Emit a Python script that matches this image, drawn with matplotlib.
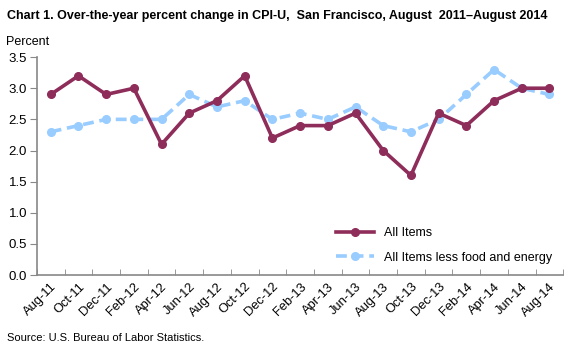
import matplotlib
matplotlib.use("Agg")
import matplotlib.pyplot as plt
import numpy as np

plt.rcParams['font.family'] = ['Liberation Sans', 'DejaVu Sans']

months = ["Aug-11", "Oct-11", "Dec-11", "Feb-12", "Apr-12", "Jun-12", "Aug-12", "Oct-12",
          "Dec-12", "Feb-13", "Apr-13", "Jun-13", "Aug-13", "Oct-13", "Dec-13", "Feb-14",
          "Apr-14", "Jun-14", "Aug-14"]
all_items = [2.9, 3.2, 2.9, 3.0, 2.1, 2.6, 2.8, 3.2, 2.2, 2.4, 2.4, 2.6, 2.0, 1.6, 2.6, 2.4, 2.8, 3.0, 3.0]
core = [2.3, 2.4, 2.5, 2.5, 2.5, 2.9, 2.7, 2.8, 2.5, 2.6, 2.5, 2.7, 2.4, 2.3, 2.5, 2.9, 3.3, 3.0, 2.9]
yticks = [0.0, 0.5, 1.0, 1.5, 2.0, 2.5, 3.0, 3.5]

fig = plt.figure(figsize=(5.76, 3.46), dpi=100)
ax = fig.add_axes([0.064, 0.205, 0.914, 0.63])

x = np.arange(len(months))
ax.plot(x, all_items, color='#8E2C5A', lw=2.6, marker='o', ms=5.5, label='All Items', zorder=3)
ax.plot(x, core, color='#99CCFF', lw=2.6, ls=(0, (3, 1.6)), marker='o', ms=5.5,
        label='All Items less food and energy', zorder=2)

ax.set_xlim(-0.5, len(months) - 0.5)
ax.set_ylim(0, 3.5)
ax.set_yticks(yticks)
ax.set_yticklabels([f"{v:.1f}" for v in yticks], fontsize=9.5)
ax.set_xticks(x)
ax.set_xticklabels(months, rotation=45, ha='right', rotation_mode='anchor', fontsize=9.3)
ax.tick_params(axis='x', length=0, pad=4)
ax.set_xticks(np.arange(-0.5, len(months), 1), minor=True)
ax.tick_params(axis='x', which='minor', direction='in', length=4, color='#888888')
ax.tick_params(axis='y', direction='out', length=5, color='#888888', pad=2)

for s in ['top', 'right']:
    ax.spines[s].set_visible(False)
for s in ['left', 'bottom']:
    ax.spines[s].set_color('#888888')
    ax.spines[s].set_linewidth(1.2)

leg = ax.legend(loc='lower right', bbox_to_anchor=(1.0, 0.0), frameon=False, fontsize=9,
                handlelength=3.0, labelspacing=1.0)

fig.text(0.012, 0.955, "Chart 1. Over-the-year percent change in CPI-U,  San Francisco, August  2011\u2013August 2014",
         fontsize=9, fontweight='bold', va='center')
fig.text(0.01, 0.88, "Percent", fontsize=9, va='center')
fig.text(0.012, 0.008, "Source: U.S. Bureau of Labor Statistics.", fontsize=8, va='bottom')

fig.savefig("out.png", dpi=100)
